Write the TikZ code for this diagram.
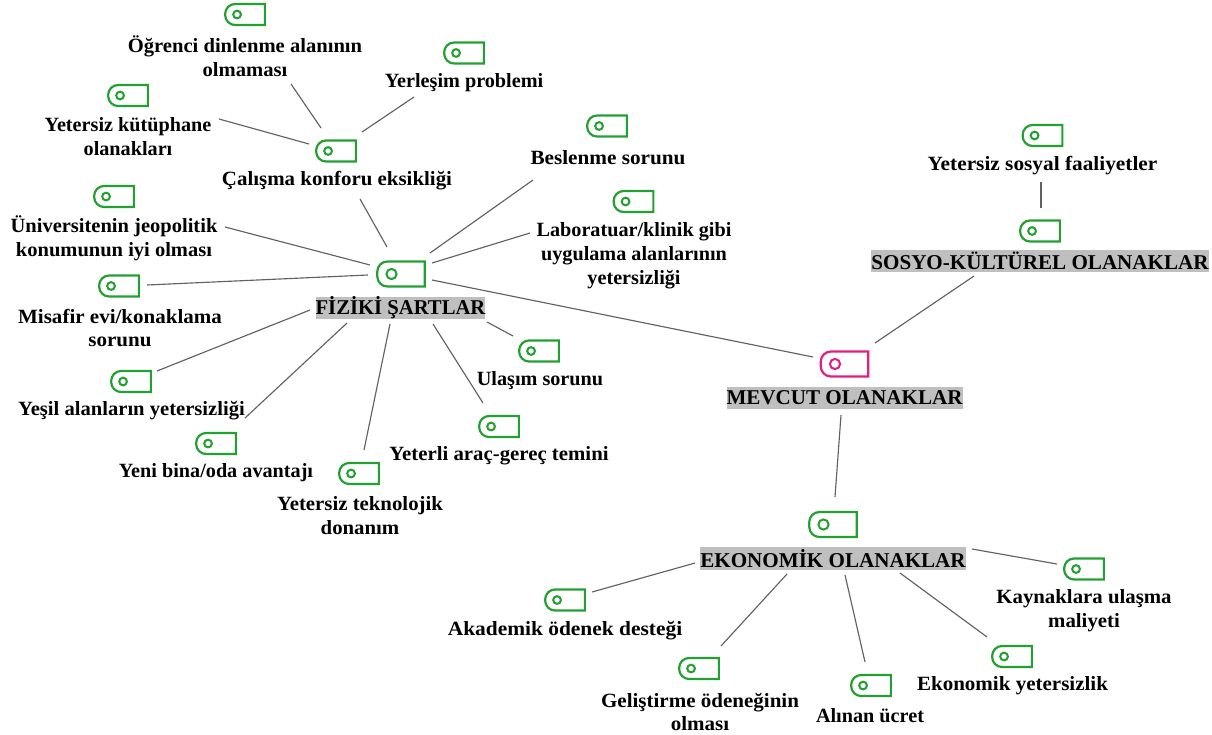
\documentclass[tikz,border=0pt]{standalone}
\usepackage{fontspec}
\setmainfont{Liberation Serif}
\usetikzlibrary{calc}
\definecolor{tagGreen}{RGB}{35,160,50}
\definecolor{tagPink}{RGB}{225,30,130}
\tikzset{
  lbl/.style={font=\fontsize{11.5}{13.6}\selectfont\bfseries,align=center,inner sep=0pt},
  head/.style={font=\fontsize{12}{14}\selectfont\bfseries,fill=black!25,inner sep=0pt,minimum height=12.8pt},
  tagS/.style={inner sep=0pt,minimum width=22.2pt,minimum height=11.6pt},
  tagB/.style={inner sep=0pt,minimum width=26.6pt,minimum height=13.8pt},
  conn/.style={draw=black!62,line width=0.65pt}
}
% tag icon: [ring radius], style, name, x, y, colour
\newcommand{\tagicon}[6][2.2pt]{
\node[#2] (#3) at (#4,#5) {};
\draw[#6,line width=1.25pt,line join=miter] (#3.north east) [sharp corners] -- (#3.south east) [rounded corners=5.7pt] -- (#3.south west) -- (#3.north west) [sharp corners] -- cycle;
\draw[#6,line width=1.15pt] ($(#3.west)!0.3!(#3.east)$) circle (#1);
}
\begin{document}
\begin{tikzpicture}[x=0.02cm,y=-0.02cm]
\useasboundingbox (0,0) rectangle (1212,734);

% centre
\tagicon[2.9pt]{tagB}{mevcutTag}{844.5}{364}{tagPink}
\node[head] (mevcut) at (844.5,398) {MEVCUT OLANAKLAR};

% fiziki
\tagicon[2.9pt]{tagB}{fizikiTag}{401}{274}{tagGreen}
\node[head,xscale=0.98] (fiziki) at (400.5,308) {FİZİKİ ŞARTLAR};
\tagicon{tagS}{calismaTag}{336}{151}{tagGreen}
\node[lbl,xscale=1.035] (calisma) at (337,181) {Çalışma konforu eksikliği};
\tagicon{tagS}{ogrenciTag}{245}{14.5}{tagGreen}
\node[lbl,xscale=1.02] (ogrenci) at (245,56) {Öğrenci dinlenme alanının\\olmaması};
\tagicon{tagS}{yerlesimTag}{464}{53}{tagGreen}
\node[lbl] (yerlesim) at (464,83) {Yerleşim problemi};
\tagicon{tagS}{kutuphaneTag}{128}{95.5}{tagGreen}
\node[lbl] (kutuphane) at (128,137) {Yetersiz kütüphane\\olanakları};
\tagicon{tagS}{beslenmeTag}{607}{126}{tagGreen}
\node[lbl,xscale=1.05] (beslenme) at (608,158) {Beslenme sorunu};
\tagicon{tagS}{labTag}{633.5}{201.5}{tagGreen}
\node[lbl] (lab) at (634,256) {Laboratuar/klinik gibi\\uygulama alanlarının\\yetersizliği};
\tagicon{tagS}{jeoTag}{114}{196.5}{tagGreen}
\node[lbl,xscale=1.015] (jeo) at (114,238) {Üniversitenin jeopolitik\\konumunun iyi olması};
\tagicon{tagS}{misafirTag}{119}{286}{tagGreen}
\node[lbl,xscale=1.04] (misafir) at (120,328) {Misafir evi/konaklama\\sorunu};
\tagicon{tagS}{yesilTag}{131}{381.5}{tagGreen}
\node[lbl,xscale=1.02] (yesil) at (131.5,411) {Yeşil alanların yetersizliği};
\tagicon{tagS}{binaTag}{216}{443.5}{tagGreen}
\node[lbl] (bina) at (216,473) {Yeni bina/oda avantajı};
\tagicon{tagS}{teknoTag}{359}{473.5}{tagGreen}
\node[lbl,xscale=1.03] (tekno) at (360,516) {Yetersiz teknolojik\\donanım};
\tagicon{tagS}{aracTag}{499}{426.5}{tagGreen}
\node[lbl,xscale=1.03] (arac) at (499,456) {Yeterli araç-gereç temini};
\tagicon{tagS}{ulasimTag}{539}{351}{tagGreen}
\node[lbl] (ulasim) at (540,381) {Ulaşım sorunu};

% sosyo
\tagicon{tagS}{sosyoTag}{1040}{231}{tagGreen}
\node[head] (sosyo) at (1040,261) {SOSYO-KÜLTÜREL OLANAKLAR};
\tagicon{tagS}{sosyalTag}{1042.5}{135.5}{tagGreen}
\node[lbl,xscale=1.055] (sosyal) at (1042.5,166) {Yetersiz sosyal faaliyetler};

% ekonomik
\tagicon[2.9pt]{tagB}{ekonomikTag}{833}{524.5}{tagGreen}
\node[head] (ekonomik) at (833,558.5) {EKONOMİK OLANAKLAR};
\tagicon{tagS}{kaynakTag}{1084}{569}{tagGreen}
\node[lbl,xscale=1.03] (kaynak) at (1084,611) {Kaynaklara ulaşma\\maliyeti};
\tagicon{tagS}{akademikTag}{565}{600}{tagGreen}
\node[lbl,xscale=1.06] (akademik) at (565,631) {Akademik ödenek desteği};
\tagicon{tagS}{gelistirmeTag}{699}{668.5}{tagGreen}
\node[lbl,xscale=1.04] (gelistirme) at (700,712) {Geliştirme ödeneğinin\\olması};
\tagicon{tagS}{ucretTag}{871}{685.5}{tagGreen}
\node[lbl] (ucret) at (870,716) {Alınan ücret};
\tagicon{tagS}{ekyetTag}{1012}{656.5}{tagGreen}
\node[lbl,xscale=1.04] (ekyet) at (1012.5,686) {Ekonomik yetersizlik};

% connectors
\draw[conn] ([shift={(46,28)}]ogrenci.center) -- ([shift={(-15,-23)}]calismaTag.center);
\draw[conn] ([shift={(-50,14)}]yerlesim.center) -- ([shift={(26,-19)}]calismaTag.center);
\draw[conn] ([shift={(91,-18)}]kutuphane.center) -- ([shift={(-27,-7)}]calismaTag.center);
\draw[conn] ([shift={(23,18)}]calisma.center) -- ([shift={(-14,-27)}]fizikiTag.center);
\draw[conn] ([shift={(-75,22)}]beslenme.center) -- ([shift={(29,-21)}]fizikiTag.center);
\draw[conn] ([shift={(-104,-23)}]lab.center) -- ([shift={(31,-11)}]fizikiTag.center);
\draw[conn] ([shift={(111,-11)}]jeo.center) -- ([shift={(-31,-9)}]fizikiTag.center);
\draw[conn] ([shift={(28,-1)}]misafirTag.center) -- ([shift={(-33,1)}]fizikiTag.center);
\draw[conn] ([shift={(26,-10.5)}]yesilTag.center) -- ([shift={(-90.5,2)}]fiziki.center);
\draw[conn] ([shift={(29,-25.5)}]binaTag.center) -- ([shift={(-53.5,15)}]fiziki.center);
\draw[conn] ([shift={(5,-23.5)}]teknoTag.center) -- ([shift={(-10.5,16)}]fiziki.center);
\draw[conn] ([shift={(-16,-23.5)}]aracTag.center) -- ([shift={(32.5,16)}]fiziki.center);
\draw[conn] ([shift={(-26,-15)}]ulasimTag.center) -- ([shift={(86.5,14)}]fiziki.center);
\draw[conn] ([shift={(31,6)}]fizikiTag.center) -- ([shift={(-31.5,-7)}]mevcutTag.center);
\draw[conn] ([shift={(30.5,-21)}]mevcutTag.center) -- ([shift={(-66,15)}]sosyo.center);
\draw[conn] ([shift={(-1.5,16)}]sosyal.center) -- ([shift={(1,-23)}]sosyoTag.center);
\draw[conn] ([shift={(-3.5,17)}]mevcut.center) -- ([shift={(2,-27.5)}]ekonomikTag.center);
\draw[conn] ([shift={(27,-8)}]akademikTag.center) -- ([shift={(-138,4.5)}]ekonomik.center);
\draw[conn] ([shift={(22,-22.5)}]gelistirmeTag.center) -- ([shift={(-46,15.5)}]ekonomik.center);
\draw[conn] ([shift={(-6,-23.5)}]ucretTag.center) -- ([shift={(12,16.5)}]ekonomik.center);
\draw[conn] ([shift={(-25,-19.5)}]ekyetTag.center) -- ([shift={(67,14.5)}]ekonomik.center);
\draw[conn] ([shift={(-27,-5)}]kaynakTag.center) -- ([shift={(139,-9.5)}]ekonomik.center);
\end{tikzpicture}
\end{document}
